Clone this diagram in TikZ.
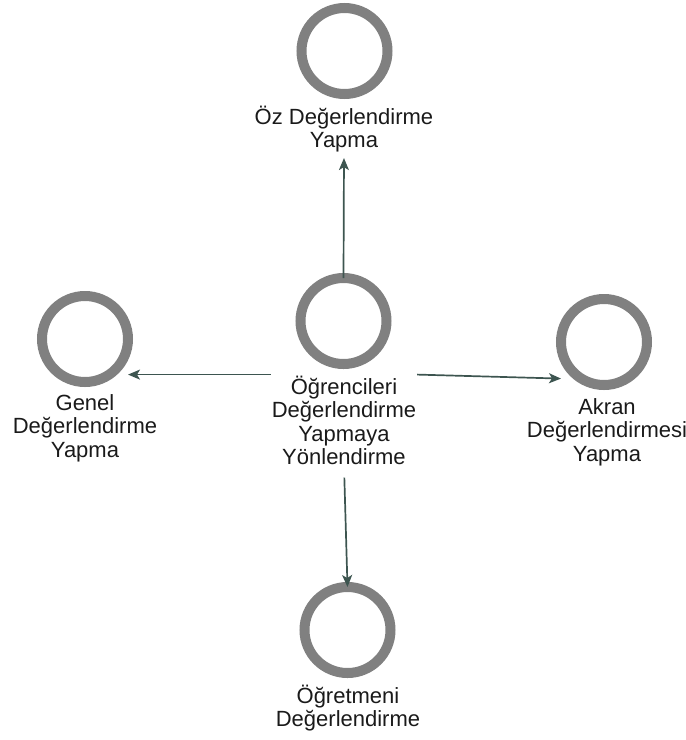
\documentclass[tikz,border=0pt]{standalone}
\usepackage{fontspec}
\setmainfont{Liberation Sans}
\usetikzlibrary{arrows.meta}
\definecolor{ringgray}{HTML}{808080}
\definecolor{linkcol}{HTML}{3D5550}
\definecolor{txt}{HTML}{1A1A1A}
\tikzset{
  ring/.style={circle, draw=ringgray, line width=10pt, minimum size=86pt, inner sep=0pt, outer sep=0pt},
  % anchored at the baseline of the last caption line
  lbl/.style={align=center, text=txt, inner sep=1pt, outer sep=0pt,
    font=\fontsize{22}{23.5}\selectfont, anchor=base},
  link/.style={draw=linkcol, line width=1.7pt, -{Stealth[length=12pt, width=10pt, inset=3pt]}}
}
\begin{document}
\begin{tikzpicture}[x=1pt, y=-1pt]
  \useasboundingbox (0,0) rectangle (686,740);
  % activity circles
  \node[ring] (c) at (343.5,321) {};
  \node[ring] (top) at (344.5,51) {};
  \node[ring] (left) at (85,339) {};
  \node[ring] (right) at (604,342) {};
  \node[ring] (bottom) at (347.5,630) {};
  % captions under the circles
  \node[lbl] (clbl) at (344,464.5) {Öğrencileri\\Değerlendirme\\Yapmaya\\Yönlendirme};
  \node[lbl] (toplbl) at (344,147.5) {Öz Değerlendirme\\Yapma};
  \node[lbl] (leftlbl) at (85,457) {Genel\\Değerlendirme\\Yapma};
  \node[lbl] (rightlbl) at (607,461) {Akran\\Değerlendirmesi\\Yapma};
  \node[lbl] (bottomlbl) at (348,726.5) {Öğretmeni\\Değerlendirme};
  % connectors
  \draw[link, shorten >=5pt] (c.north) -- (toplbl.south);
  \draw[link] (clbl.north west) -- (left.east |- clbl.north west);
  \draw[link] (clbl.north east) -- ([yshift=-4pt]right.west |- clbl.north east);
  \draw[link, shorten <=12pt] (clbl.south) -- (bottom.north);
\end{tikzpicture}
\end{document}
